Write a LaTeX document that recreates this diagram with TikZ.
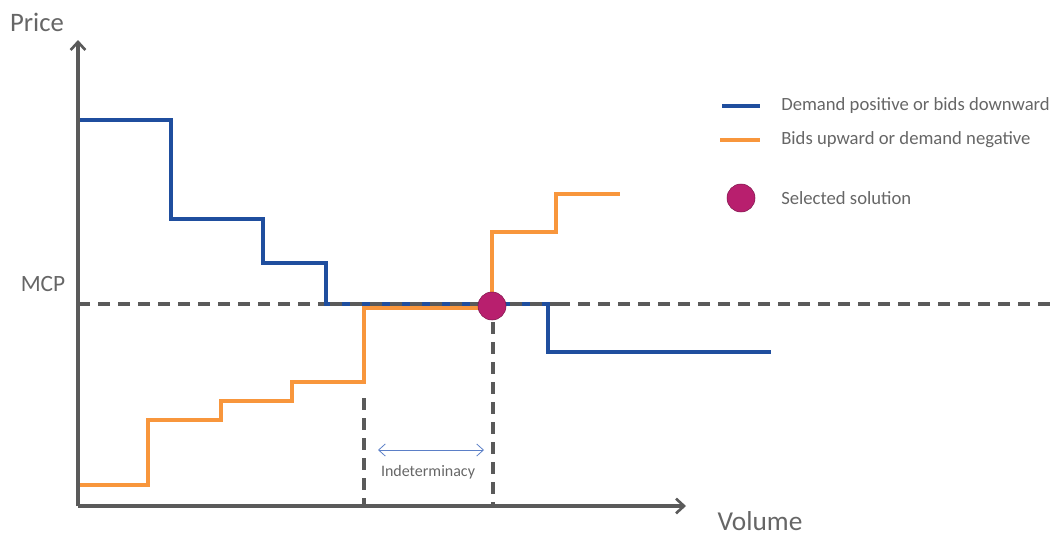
\documentclass[tikz,border=0pt]{standalone}
\usepackage{fontspec}
\setmainfont{Carlito}
\usetikzlibrary{arrows.meta}
\definecolor{dblue}{HTML}{1F4E9E}
\definecolor{borange}{HTML}{F8963C}
\definecolor{mcpcol}{HTML}{B81F6E}
\definecolor{axgray}{HTML}{5A5A5A}
\definecolor{txtgray}{HTML}{666666}
\definecolor{thinblue}{HTML}{5B7FC7}
\tikzset{
  axisline/.style={draw=axgray,line width=2.6pt,-{Straight Barb[length=6pt,width=11pt,line width=2pt]}},
  demand/.style={draw=dblue,line width=2.3pt},
  bids/.style={draw=borange,line width=2.3pt},
  guide/.style={draw=axgray,line width=2.7pt,dash pattern=on 9pt off 6pt},
  sol/.style={circle,fill=mcpcol,draw=mcpcol!70!black,line width=0.4pt,minimum size=21pt,inner sep=0pt},
  lbl/.style={text=txtgray,inner sep=0pt},
  leg/.style={text=txtgray,anchor=west,inner sep=0pt,font=\fontsize{14}{16}\selectfont},
}
\begin{document}
\begin{tikzpicture}[x=0.75pt,y=-0.75pt]
\useasboundingbox (0,0) rectangle (1056,536);
% origin and axis tips
\coordinate (O) at (78,506);
\coordinate (ytip) at (78,40);
\coordinate (xtip) at (686,506);
% MCP line
\coordinate (mcpL) at (78,304);
\coordinate (mcpR) at (1056,304);
\draw[guide] (mcpL) -- (mcpR);
% demand curve
\draw[demand] (78,120) -- (171,120) -- (171,219) -- (263,219) -- (263,263) -- (326,263) -- (326,304) -- (548,304) -- (548,352) -- (771,352);
% bids curve
\draw[bids] (78,485) -- (148,485) -- (148,420) -- (221,420) -- (221,401) -- (292,401) -- (292,382) -- (364,382) -- (364,308) -- (492,308) -- (492,232) -- (556,232) -- (556,194) -- (620,194);
% redraw MCP dashes over the flat part
\draw[guide] (330,304) -- (560,304);
% vertical guides
\coordinate (v1top) at (364,398);
\coordinate (v1bot) at (364,504);
\coordinate (v2top) at (493,322);
\coordinate (v2bot) at (493,504);
\draw[guide] (v1top) -- (v1bot);
\draw[guide] (v2top) -- (v2bot);
% axes
\draw[axisline] (O) -- (ytip);
\draw[axisline] (O) -- (xtip);
% solution point
\node[sol] (solution) at (492,306) {};
% indeterminacy
\coordinate (indL) at (378,450);
\coordinate (indR) at (484,450);
\draw[thinblue,line width=0.6pt,{Straight Barb[length=5pt,width=9pt]}-{Straight Barb[length=5pt,width=9pt]}] (indL) -- (indR);
\node[lbl,font=\fontsize{12}{14}\selectfont] (indet) at (428,472) {Indeterminacy};
% axis labels
\node[lbl,font=\fontsize{20}{22}\selectfont] (price) at (37,22) {Price};
\node[lbl,font=\fontsize{17.5}{19}\selectfont] (mcp) at (43,284) {MCP};
\node[lbl,font=\fontsize{20.5}{22}\selectfont] (volume) at (760,521) {Volume};
% legend
\coordinate (l1a) at (722,106);
\coordinate (l1b) at (760,106);
\draw[demand] (l1a) -- (l1b);
\node[leg] (leg1) at (781,106) {Demand positive or bids downward};
\coordinate (l2a) at (720,140);
\coordinate (l2b) at (760,140);
\draw[bids] (l2a) -- (l2b);
\node[leg] (leg2) at (781,140) {Bids upward or demand negative};
\node[sol] (legsol) at (741,198) {};
\node[leg] (leg3) at (781,198) {Selected solution};
\end{tikzpicture}
\end{document}
